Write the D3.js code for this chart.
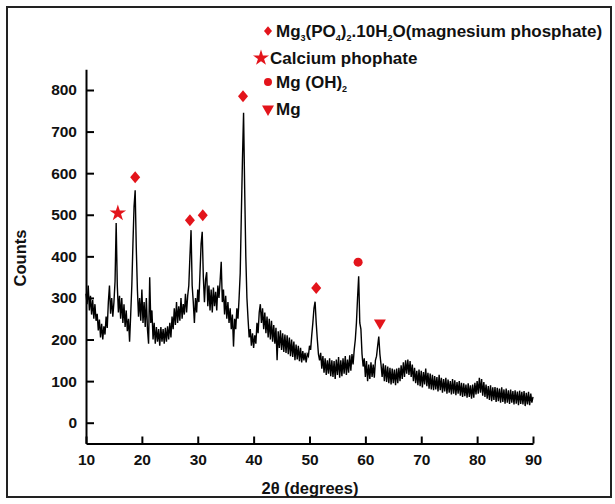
<!DOCTYPE html>
<html>
<head>
<meta charset="utf-8">
<script src="https://cdn.jsdelivr.net/npm/d3@7.9.0/dist/d3.min.js"></script>
<style>
  body { margin: 0; background: #fff; }
  text { font-family: "Liberation Sans", Arial, sans-serif; font-weight: bold; fill: #111; }
</style>
</head>
<body>
<svg id="chart" width="615" height="504"></svg>
<script>
// 2theta starts at 10, one reading every 0.2 degree
const startAngle = 10;
const stepAngle = 0.2;
const counts = [
  310, 285, 330, 270, 305, 260, 295, 250, 285, 245,
  262, 222, 248, 205, 238, 200, 232, 212, 255, 228,
  290, 330, 262, 300, 255, 290, 340, 480, 330, 265,
  305, 250, 300, 240, 285, 230, 270, 220, 250, 195,
  260, 330, 430, 520, 559, 420, 320, 255, 300, 245,
  320, 240, 290, 230, 300, 225, 190, 350, 240, 270,
  200, 240, 190, 230, 195, 225, 185, 230, 195, 225,
  190, 228, 195, 232, 200, 240, 205, 255, 225, 275,
  235, 290, 240, 280, 245, 300, 250, 285, 260, 310,
  265, 305, 330, 400, 463, 330, 290, 240, 300, 265,
  320, 290, 360, 430, 459, 350, 290, 345, 362, 280,
  330, 270, 320, 265, 325, 280, 315, 270, 330, 300,
  340, 387, 290, 320, 260, 305, 250, 290, 240, 275,
  225, 260, 183, 250, 225, 275, 250, 300, 360, 500,
  632, 745, 560, 400, 300, 250, 205, 225, 185, 215,
  180, 210, 190, 240, 215, 265, 285, 240, 275, 225,
  265, 215, 255, 205, 250, 200, 245, 195, 235, 190,
  228, 150, 220, 180, 222, 175, 215, 170, 212, 168,
  210, 165, 205, 160, 200, 158, 195, 150, 188, 152,
  185, 148, 180, 145, 172, 150, 168, 145, 165, 160,
  185, 175, 210, 240, 275, 291, 240, 200, 165, 150,
  168, 130, 160, 120, 155, 115, 150, 118, 155, 112,
  150, 110, 148, 105, 152, 115, 158, 108, 150, 112,
  155, 118, 160, 115, 152, 120, 162, 125, 165, 140,
  175, 200, 240, 300, 352, 240, 225, 165, 135, 155,
  110, 148, 100, 140, 105, 145, 110, 140, 108, 150,
  160, 185, 207, 165, 140, 110, 142, 100, 138, 98,
  135, 95, 132, 92, 130, 95, 128, 90, 130, 95,
  132, 100, 138, 105, 145, 110, 150, 118, 152, 115,
  148, 110, 140, 100, 132, 95, 125, 90, 128, 88,
  125, 85, 122, 92, 130, 88, 120, 82, 118, 80,
  115, 78, 112, 80, 110, 75, 115, 78, 108, 72,
  105, 75, 108, 70, 104, 72, 100, 68, 105, 70,
  102, 66, 98, 70, 100, 65, 96, 62, 95, 64,
  92, 60, 95, 62, 90, 58, 92, 60, 96, 68,
  100, 70, 108, 72, 105, 65, 98, 62, 92, 58,
  88, 55, 90, 52, 85, 55, 86, 50, 84, 52,
  82, 48, 85, 50, 80, 46, 82, 48, 78, 45,
  80, 48, 76, 44, 78, 46, 75, 42, 77, 45,
  74, 44, 76, 40, 72, 44, 74, 42, 70, 48,
  62
];

// peak markers: phase, 2theta, counts where the symbol sits
const markerPhase = ["star", "diamond", "diamond", "diamond", "diamond", "diamond", "circle", "triangle"];
const markerAngle = [15.7, 18.8, 28.6, 30.9, 38.1, 51.2, 58.7, 62.6];
const markerCount = [504, 590, 487, 499, 785, 324, 386, 240];

const legendPhase = ["diamond", "star", "circle", "triangle"];

const xTicks = [10, 20, 30, 40, 50, 60, 70, 80, 90];
const yTicks = [0, 100, 200, 300, 400, 500, 600, 700, 800];

const red = "#e3141b";

const svg = d3.select("#chart");

svg.append("rect")
  .attr("x", 7).attr("y", 7)
  .attr("width", 604).attr("height", 490)
  .attr("fill", "none")
  .attr("stroke", "#222")
  .attr("stroke-width", 2);

const x = d3.scaleLinear().domain([10, 90]).range([86, 533]);
const y = d3.scaleLinear().domain([-50, 850]).range([443.5, 69.2]);

const points = counts.map((c, i) => [startAngle + i * stepAngle, c]);

svg.append("path")
  .datum(points)
  .attr("fill", "none")
  .attr("stroke", "#000")
  .attr("stroke-width", 1.4)
  .attr("d", d3.line().x(d => x(d[0])).y(d => y(d[1])));

// axes, ticks point inward
const xAxis = svg.append("g")
  .attr("transform", `translate(0,${y(-50)})`)
  .call(d3.axisBottom(x).tickValues(xTicks).tickSizeInner(-7).tickSizeOuter(0).tickPadding(10));
const yAxis = svg.append("g")
  .attr("transform", `translate(${x(10)},0)`)
  .call(d3.axisLeft(y).tickValues(yTicks).tickSizeInner(-8).tickSizeOuter(0).tickPadding(9));

[xAxis, yAxis].forEach(g => {
  g.select(".domain").attr("stroke", "#000").attr("stroke-width", 2);
  g.selectAll(".tick line").attr("stroke", "#000").attr("stroke-width", 2);
  g.selectAll(".tick text")
    .attr("fill", "#111")
    .style("font-size", "15.5px")
    .style("font-family", "'Liberation Sans', Arial, sans-serif")
    .style("font-weight", "bold");
});

svg.append("text")
  .attr("transform", "translate(26,258) rotate(-90)")
  .attr("text-anchor", "middle")
  .style("font-size", "16.5px")
  .text("Counts");

svg.append("text")
  .attr("x", 310).attr("y", 494)
  .attr("text-anchor", "middle")
  .style("font-size", "16.5px")
  .text("2θ (degrees)");

// diamonds are squares turned 45deg, a bit taller than wide
function symbolPath(kind, big) {
  if (kind === "star") return d3.symbol(d3.symbolStar, big ? 85 : 80)();
  if (kind === "circle") return d3.symbol(d3.symbolCircle, big ? 64 : 50)();
  if (kind === "triangle") return d3.symbol(d3.symbolTriangle, 62)();
  return d3.symbol(d3.symbolSquare, big ? 50 : 32)();
}
function symbolTransform(kind) {
  if (kind === "triangle") return " rotate(180)";
  if (kind === "diamond") return " scale(1,1.2) rotate(45)";
  return "";
}

svg.append("g").selectAll("path")
  .data(markerPhase)
  .join("path")
  .attr("d", d => symbolPath(d, true))
  .attr("fill", red)
  .attr("transform", (d, i) => `translate(${x(markerAngle[i])},${y(markerCount[i])})` + symbolTransform(d));

// legend
const legendX = [268, 261, 268, 268];
const legendY = [31, 58, 82, 109];
const legend = svg.append("g");
legend.selectAll("path")
  .data(legendPhase)
  .join("path")
  .attr("d", d => symbolPath(d, false))
  .attr("fill", red)
  .attr("transform", (d, i) => `translate(${legendX[i]},${legendY[i]})` + symbolTransform(d));

const t1 = legend.append("text").attr("x", 276).attr("y", 37).style("font-size", "17px");
t1.append("tspan").text("Mg");
t1.append("tspan").attr("dy", 4).style("font-size", "9px").text("3");
t1.append("tspan").attr("dy", -4).text("(PO");
t1.append("tspan").attr("dy", 4).style("font-size", "9px").text("4");
t1.append("tspan").attr("dy", -4).text(")");
t1.append("tspan").attr("dy", 4).style("font-size", "9px").text("2");
t1.append("tspan").attr("dy", -4).text(".10H");
t1.append("tspan").attr("dy", 4).style("font-size", "9px").text("2");
t1.append("tspan").attr("dy", -4).text("O(magnesium phosphate)");

legend.append("text").attr("x", 270).attr("y", 64).style("font-size", "17px").text("Calcium phophate");

const t3 = legend.append("text").attr("x", 276).attr("y", 88).style("font-size", "17px");
t3.append("tspan").text("Mg (OH)");
t3.append("tspan").attr("dy", 4).style("font-size", "9px").text("2");

legend.append("text").attr("x", 276).attr("y", 115).style("font-size", "17px").text("Mg");
</script>
</body>
</html>
